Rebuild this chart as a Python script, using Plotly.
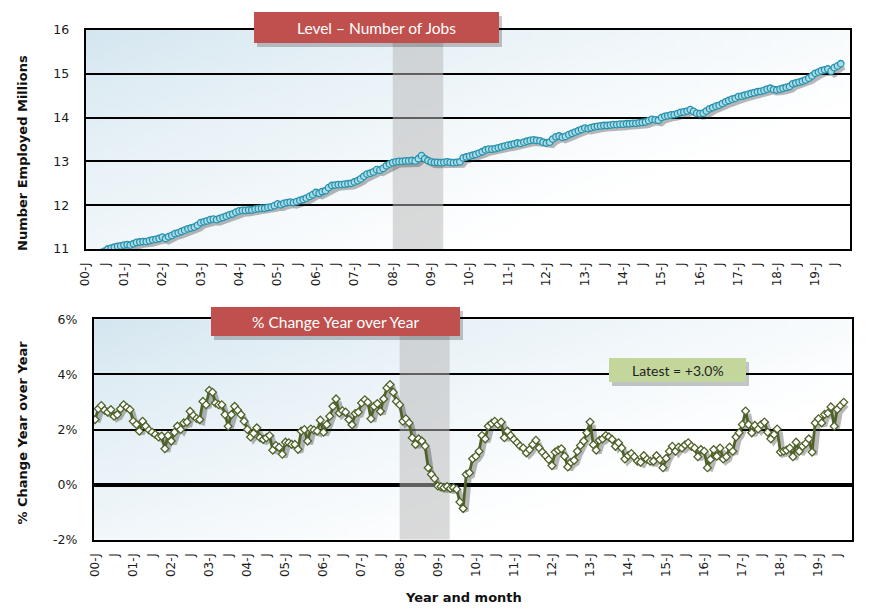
import base64, struct, zlib
import pandas as pd
import plotly.graph_objects as go

# ---------------- data ----------------
start_month = "2000-01-01"

employed_millions = [
    10.82, 10.84, 10.86, 10.88, 10.90, 10.92, 10.95, 11.00, 11.02, 11.04, 11.06, 11.07,
    11.09, 11.10, 11.09, 11.12, 11.15, 11.16, 11.17, 11.17, 11.19, 11.21, 11.22, 11.24,
    11.27, 11.24, 11.28, 11.31, 11.35, 11.37, 11.40, 11.43, 11.46, 11.48, 11.50, 11.54,
    11.60, 11.62, 11.64, 11.67, 11.68, 11.67, 11.70, 11.72, 11.75, 11.78, 11.80, 11.84,
    11.87, 11.88, 11.88, 11.89, 11.89, 11.91, 11.92, 11.93, 11.93, 11.95, 11.96, 11.99,
    12.03, 12.01, 12.04, 12.06, 12.07, 12.06, 12.08, 12.11, 12.13, 12.16, 12.20, 12.24,
    12.29, 12.27, 12.31, 12.33, 12.40, 12.45, 12.46, 12.47, 12.47, 12.48, 12.49, 12.50,
    12.53, 12.56, 12.60, 12.66, 12.71, 12.73, 12.76, 12.81, 12.80, 12.84, 12.90, 12.94,
    12.97, 12.99, 13.00, 13.00, 13.01, 13.01, 13.02, 13.01, 13.06, 13.13, 13.06, 13.02,
    12.99, 12.98, 12.98, 12.97, 12.98, 12.99, 12.98, 12.97, 12.98, 12.99, 13.08, 13.10,
    13.12, 13.14, 13.16, 13.19, 13.22, 13.26, 13.28, 13.28, 13.29, 13.31, 13.33, 13.35,
    13.37, 13.38, 13.40, 13.42, 13.41, 13.44, 13.46, 13.48, 13.49, 13.48, 13.47, 13.44,
    13.42, 13.44, 13.51, 13.56, 13.58, 13.55, 13.57, 13.61, 13.64, 13.67, 13.70, 13.73,
    13.76, 13.75, 13.77, 13.79, 13.80, 13.81, 13.82, 13.82, 13.83, 13.84, 13.84, 13.85,
    13.85, 13.86, 13.86, 13.87, 13.87, 13.88, 13.89, 13.90, 13.93, 13.96, 13.95, 13.94,
    14.00, 14.03, 14.04, 14.06, 14.07, 14.09, 14.12, 14.13, 14.15, 14.18, 14.14, 14.10,
    14.09, 14.10, 14.15, 14.20, 14.23, 14.26, 14.28, 14.32, 14.36, 14.39, 14.42, 14.44,
    14.48, 14.49, 14.51, 14.53, 14.55, 14.57, 14.59, 14.60, 14.62, 14.65, 14.67, 14.64,
    14.63, 14.65, 14.67, 14.69, 14.71, 14.77, 14.79, 14.81, 14.83, 14.86, 14.90, 14.95,
    15.01, 15.04, 15.07, 15.09, 15.11, 15.06, 15.14, 15.18, 15.23,
]

yoy_pct = [
    2.36, 2.75, 2.87, 2.70, 2.63, 2.72, 2.48, 2.54, 2.75, 2.90, 2.80, 2.72,
    2.30, 2.18, 1.94, 2.30, 2.12, 1.98, 1.90, 1.82, 1.73, 1.76, 1.30, 1.78,
    1.58, 1.90, 2.12, 2.00, 2.24, 2.27, 2.66, 2.51, 2.40, 2.36, 3.02, 2.90,
    3.42, 3.35, 2.96, 2.90, 2.90, 2.54, 2.12, 2.54, 2.84, 2.70, 2.54, 2.30,
    2.00, 1.73, 1.86, 2.06, 1.70, 1.64, 1.70, 1.78, 1.25, 1.42, 1.35, 1.10,
    1.54, 1.52, 1.46, 1.46, 1.28, 1.94, 2.00, 1.58, 2.02, 1.98, 1.94, 2.34,
    1.90, 2.18, 2.48, 2.84, 3.11, 2.60, 2.68, 2.63, 2.36, 2.17, 2.58, 2.63,
    2.96, 3.08, 2.99, 2.39, 2.84, 2.94, 2.66, 3.11, 3.51, 3.63, 3.35, 3.02,
    2.90, 2.30, 2.39, 2.24, 1.70, 1.46, 1.66, 1.58, 1.40, 0.61, 0.37, 0.22,
    -0.05, -0.08, -0.11, -0.07, -0.14, -0.11, -0.17, -0.63, -0.87, 0.37, 0.43, 0.94,
    1.03, 1.21, 1.78, 1.66, 2.12, 2.22, 2.30, 2.18, 2.27, 1.70, 1.94, 1.78,
    1.64, 1.52, 1.40, 1.33, 1.15, 1.27, 1.45, 1.61, 1.33, 1.18, 1.05, 0.91,
    0.69, 1.18, 1.25, 1.30, 1.03, 0.64, 0.81, 0.88, 1.21, 1.42, 1.58, 1.88,
    2.27, 1.45, 1.25, 1.61, 1.66, 1.78, 1.73, 1.64, 1.39, 1.52, 1.33, 0.93,
    1.05, 1.13, 1.01, 0.85, 0.81, 1.05, 0.92, 0.85, 0.85, 1.05, 0.91, 0.61,
    0.95, 1.21, 1.39, 1.21, 1.36, 1.33, 1.44, 1.52, 1.39, 1.33, 1.01, 1.27,
    1.21, 0.61, 0.91, 1.27, 1.03, 1.33, 0.93, 1.01, 1.36, 1.21, 1.73, 1.88,
    2.18, 2.67, 2.18, 1.88, 2.15, 2.02, 2.18, 2.27, 1.90, 1.66, 1.82, 2.02,
    1.18, 1.21, 1.25, 1.33, 1.01, 1.54, 1.21, 1.39, 1.49, 1.66, 1.18, 2.24,
    2.39, 2.24, 2.55, 2.59, 2.82, 2.12, 2.73, 2.87, 2.99,
]

tick_labels = [
    "00-J", "J", "01-J", "J", "02-J", "J", "03-J", "J", "04-J", "J",
    "05-J", "J", "06-J", "J", "07-J", "J", "08-J", "J", "09-J", "J",
    "10-J", "J", "11-J", "J", "12-J", "J", "13-J", "J", "14-J", "J",
    "15-J", "J", "16-J", "J", "17-J", "J", "18-J", "J", "19-J", "J",
]

level_ticks = [11, 12, 13, 14, 15, 16]
pct_ticks = [-2, 0, 2, 4, 6]
pct_tick_labels = ["-2%", "0%", "2%", "4%", "6%"]

recession_start = "2008-01-01"
recession_end = "2009-04-25"

title_top = "Level \u2013 Number of Jobs"
title_bottom = "% Change Year over Year"
latest_label = "Latest = +3.0%"

months = pd.date_range(start_month, periods=len(employed_millions), freq="MS")
months_b = pd.date_range(start_month, periods=len(yoy_pct), freq="MS")
tick_dates = pd.date_range(start_month, periods=len(tick_labels), freq="6MS")

# ---------------- geometry (pixels) ----------------
W, H = 870, 611
def px(x):
    return x / W
def py(y):
    return 1 - y / H

top_x = [px(85.5), px(849.5)]
top_y = [py(249), py(30)]
bot_x = [px(93.7), px(852)]
bot_y = [py(539.7), py(319.3)]

top_range = [pd.Timestamp("2000-01-01"), pd.Timestamp("2019-11-23")]
bot_range = [pd.Timestamp("1999-12-19"), pd.Timestamp("2019-11-19")]
top_yr = [11, 16]
bot_yr = [-2, 6]

def shifted_x(rng, dom, n=3.0):
    span_px = (dom[1] - dom[0]) * W
    delta = (rng[1] - rng[0]) * (n / span_px)
    return [rng[0] - delta, rng[1] - delta]
def shifted_y(rng, dom, n=3.0):
    span_px = (dom[1] - dom[0]) * H
    d = (rng[1] - rng[0]) * (n / span_px)
    return [rng[0] + d, rng[1] + d]

# ---------------- gradient background image ----------------
def make_png(w, h, fn):
    raw = bytearray()
    for yy in range(h):
        raw.append(0)
        for xx in range(w):
            raw.extend(fn(xx / (w - 1), yy / (h - 1)))
    def chunk(t, d):
        return struct.pack(">I", len(d)) + t + d + struct.pack(">I", zlib.crc32(t + d) & 0xFFFFFFFF)
    ihdr = struct.pack(">IIBBBBB", w, h, 8, 2, 0, 0, 0)
    return (b"\x89PNG\r\n\x1a\n" + chunk(b"IHDR", ihdr)
            + chunk(b"IDAT", zlib.compress(bytes(raw))) + chunk(b"IEND", b""))

c0 = (212, 230, 240)
c1 = (255, 255, 255)
def grad(u, v):
    t = min(1.0, 0.8 * u + 0.6 * v)
    t = t ** 0.8
    return bytes(int(round(c0[k] + (c1[k] - c0[k]) * t)) for k in range(3))

png_uri = "data:image/png;base64," + base64.b64encode(make_png(64, 32, grad)).decode()

# ---------------- figure ----------------
fig = go.Figure()

band_style = dict(mode="lines", fill="toself", fillcolor="rgba(185,185,185,0.52)",
                  line=dict(width=0, color="rgba(0,0,0,0)"), hoverinfo="skip")
fig.add_trace(go.Scatter(x=[recession_start, recession_start, recession_end, recession_end, recession_start],
                         y=[top_yr[0], top_yr[1], top_yr[1], top_yr[0], top_yr[0]],
                         xaxis="x", yaxis="y", **band_style))
fig.add_trace(go.Scatter(x=[recession_start, recession_start, recession_end, recession_end, recession_start],
                         y=[bot_yr[0], bot_yr[1], bot_yr[1], bot_yr[0], bot_yr[0]],
                         xaxis="x2", yaxis="y2", **band_style))

fig.add_trace(go.Scatter(x=months, y=employed_millions, xaxis="x3", yaxis="y3",
                         mode="lines", line=dict(color="rgba(40,40,40,0.33)", width=6),
                         hoverinfo="skip"))
fig.add_trace(go.Scatter(x=months, y=employed_millions, xaxis="x4", yaxis="y4",
                         mode="lines+markers",
                         line=dict(color="#2e9ab5", width=2),
                         marker=dict(symbol="circle", size=6.5, color="#a8dde9",
                                     line=dict(color="#2a91ab", width=1.3))))
fig.add_trace(go.Scatter(x=months_b, y=yoy_pct, xaxis="x5", yaxis="y5",
                         mode="lines", line=dict(color="rgba(40,40,40,0.33)", width=5),
                         hoverinfo="skip"))
fig.add_trace(go.Scatter(x=months_b, y=yoy_pct, xaxis="x6", yaxis="y6",
                         mode="lines+markers",
                         line=dict(color="#4f6228", width=2.8),
                         marker=dict(symbol="diamond", size=6, color="white",
                                     line=dict(color="#4f6228", width=1.3))))

tickfont = dict(family="DejaVu Sans", size=12, color="#1a1a1a")
xcommon = dict(type="date", tickmode="array", tickvals=tick_dates, ticktext=tick_labels,
               tickangle=-90, tickfont=tickfont, showgrid=False, zeroline=False,
               showline=True, linecolor="black", linewidth=1.5, mirror=True,
               ticks="", automargin=False, ticklabelstandoff=7)
hidden = dict(visible=False, showgrid=False, zeroline=False, automargin=False)

fig.update_layout(
    width=W, height=H,
    margin=dict(l=0, r=0, t=0, b=0),
    paper_bgcolor="white", plot_bgcolor="rgba(0,0,0,0)",
    showlegend=False, hovermode=False,
    xaxis=dict(domain=top_x, range=top_range, anchor="y", **xcommon),
    yaxis=dict(domain=top_y, range=top_yr, anchor="x", tickvals=level_ticks,
               tickfont=dict(family="DejaVu Sans", size=12.5, color="#1a1a1a"),
               showgrid=True, gridcolor="black", gridwidth=1.6,
               zeroline=False, showline=True, linecolor="black", linewidth=1.5,
               mirror=True, ticks="", automargin=False, ticklabelstandoff=12),
    xaxis2=dict(domain=bot_x, range=bot_range, anchor="y2", **xcommon),
    yaxis2=dict(domain=bot_y, range=bot_yr, anchor="x2", tickmode="array",
                tickvals=pct_ticks, ticktext=pct_tick_labels,
                tickfont=dict(family="DejaVu Sans", size=12.5, color="#1a1a1a"),
                showgrid=True, gridcolor="black", gridwidth=1.6,
                zeroline=True, zerolinecolor="black", zerolinewidth=4,
                showline=True, linecolor="black", linewidth=1.5,
                mirror=True, ticks="", automargin=False, ticklabelstandoff=12),
    xaxis3=dict(overlaying="x", domain=top_x, range=shifted_x(top_range, top_x), type="date", anchor="y3", **hidden),
    yaxis3=dict(overlaying="y", domain=top_y, range=shifted_y(top_yr, top_y), anchor="x3", **hidden),
    xaxis4=dict(overlaying="x", domain=top_x, range=top_range, type="date", anchor="y4", **hidden),
    yaxis4=dict(overlaying="y", domain=top_y, range=top_yr, anchor="x4", **hidden),
    xaxis5=dict(overlaying="x2", domain=bot_x, range=shifted_x(bot_range, bot_x), type="date", anchor="y5", **hidden),
    yaxis5=dict(overlaying="y2", domain=bot_y, range=shifted_y(bot_yr, bot_y), anchor="x5", **hidden),
    xaxis6=dict(overlaying="x2", domain=bot_x, range=bot_range, type="date", anchor="y6", **hidden),
    yaxis6=dict(overlaying="y2", domain=bot_y, range=bot_yr, anchor="x6", **hidden),
)

for dx, dy in ((top_x, top_y), (bot_x, bot_y)):
    fig.add_layout_image(dict(source=png_uri, xref="paper", yref="paper",
                              x=dx[0], y=dy[1], sizex=dx[1] - dx[0], sizey=dy[1] - dy[0],
                              xanchor="left", yanchor="top", sizing="stretch", layer="below"))

def box(x0, y0, x1, y1, color, shadow=True):
    if shadow:
        fig.add_shape(type="rect", xref="paper", yref="paper",
                      x0=px(x0 + 3), x1=px(x1 + 3), y0=py(y1 + 4), y1=py(y0 + 4),
                      fillcolor="rgba(0,0,0,0.22)", line=dict(width=0), layer="above")
    fig.add_shape(type="rect", xref="paper", yref="paper",
                  x0=px(x0), x1=px(x1), y0=py(y1), y1=py(y0),
                  fillcolor=color, line=dict(width=0), layer="above")

box(254, 12, 499, 43, "#c0504d")
box(211, 307, 460, 336, "#c0504d")
box(609, 358, 746, 382, "#c3d69b")

def label(text, x, y, size, color, family="Lato", angle=0, weight="normal"):
    fig.add_annotation(text=text, xref="paper", yref="paper", x=px(x), y=py(y),
                       showarrow=False, textangle=angle, xanchor="center", yanchor="middle",
                       font=dict(family=family, size=size, color=color, weight=weight))

label(title_top, 376.5, 28, 15.5, "white")
label(title_bottom, 335.5, 322, 15.5, "white")
label(latest_label, 677.5, 370, 14, "#1f1f1f")

label("Number Employed Millions", 22, 153, 13, "#111111", family="DejaVu Sans", angle=-90, weight="bold")
label("% Change Year over Year", 22, 432.5, 13, "#111111", family="DejaVu Sans", angle=-90, weight="bold")
label("Year and month", 463, 597, 13, "#111111", family="DejaVu Sans", weight="bold")

fig.write_html("out.html", config={"displayModeBar": False},
               post_script="document.body.style.margin='0';document.body.style.padding='0';")
